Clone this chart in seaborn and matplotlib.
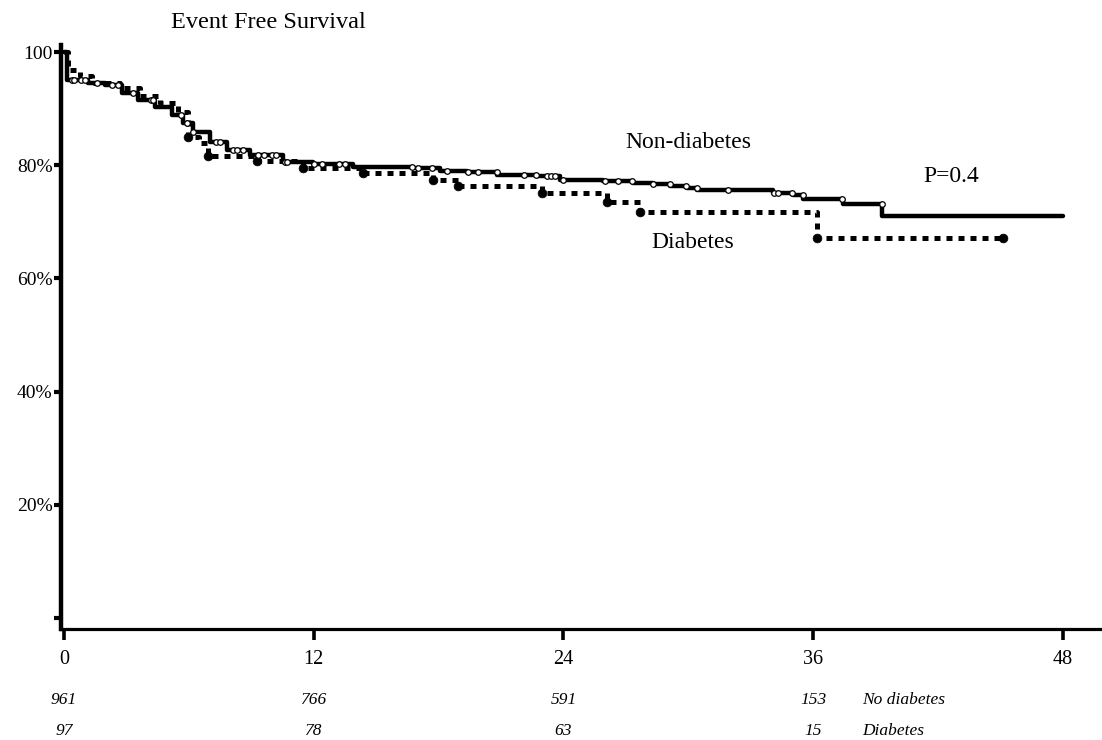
import numpy as np
import pandas as pd
import matplotlib
matplotlib.use("Agg")
import matplotlib.pyplot as plt
import seaborn as sns

# ---------------- data ----------------
# Non-diabetes Kaplan-Meier steps (months, % event free)
nd_time = [0, 0.14, 1.15, 1.97, 2.79, 3.56, 4.37, 5.19, 5.72, 6.2, 7.02, 7.83, 8.94,
           10.52, 11.96, 13.89, 16.77, 18.07, 19.37, 20.81, 22.73, 23.83, 25.9, 27.34,
           28.3, 29.12, 29.94, 30.42, 34.07, 35.03, 35.51, 37.43, 39.31, 48.0]
nd_surv = [100, 95.1, 94.5, 94.2, 92.8, 91.5, 90.3, 88.9, 87.5, 85.9, 84.1, 82.7, 81.8,
           80.6, 80.2, 79.7, 79.5, 79.0, 78.8, 78.3, 78.1, 77.4, 77.2, 76.9,
           76.7, 76.3, 76.0, 75.6, 75.1, 74.7, 74.0, 73.1, 71.0, 71.0]
nd_censor = [0.4, 0.5, 0.8, 1.0, 1.6, 2.3, 2.6, 3.3, 4.2, 4.3, 5.6, 5.9, 6.2, 7.3, 7.5,
             8.1, 8.3, 8.6, 9.3, 9.6, 10.0, 10.2, 10.6, 10.7, 12.0, 12.4, 13.2, 13.5,
             16.7, 17.0, 17.7, 18.4, 19.4, 19.9, 20.8, 22.1, 22.7, 23.2, 23.4, 23.6,
             24.0, 26.0, 26.6, 27.3, 28.3, 29.1, 29.9, 30.4, 31.9, 34.1, 34.3, 35.0,
             35.5, 37.4, 39.3]

# Diabetes Kaplan-Meier steps
d_time = [0, 0.19, 0.77, 1.35, 2.69, 3.65, 4.61, 5.48, 5.96, 6.5, 6.92, 9.27, 11.49,
          14.37, 17.73, 18.93, 22.97, 26.09, 27.68, 36.18, 45.12]
d_surv = [100, 96.8, 95.8, 94.5, 93.6, 92.2, 91.0, 89.4, 85.0, 84.0, 81.6, 80.7, 79.5,
          78.6, 77.4, 76.3, 75.1, 73.5, 71.7, 67.1, 67.1]
d_marks = [5.96, 6.92, 9.27, 11.49, 14.37, 17.73, 18.93, 22.97, 26.09, 27.68, 36.18,
           45.12]

x_ticks = [0, 12, 24, 36, 48]
y_ticks = [0, 20, 40, 60, 80, 100]
y_ticklabels = ["", "20%", "40%", "60%", "80%", "100"]

risk_times = [0, 12, 24, 36]
risk_nodiab = [961, 766, 591, 153]
risk_diab = [97, 78, 63, 15]


def step_value(times, surv, t):
    t = np.asarray(t, dtype=float)
    idx = np.searchsorted(np.asarray(times), t, side="right") - 1
    return np.asarray(surv)[idx]


# ---------------- style ----------------
sns.set_style("white")
plt.rcParams["font.family"] = ["Liberation Serif", "DejaVu Serif"]
for key in ["text.color", "xtick.color", "ytick.color", "axes.labelcolor",
            "axes.edgecolor"]:
    plt.rcParams[key] = "black"

W, H = 1102, 740
fig = plt.figure(figsize=(W / 100, H / 100), dpi=100)
ax = fig.add_axes([61 / W, 1 - 629 / H, (1100 - 61) / W, (629 - 45) / H])

df_d = pd.DataFrame({"t": d_time, "s": d_surv})
df_n = pd.DataFrame({"t": nd_time, "s": nd_surv})

sns.lineplot(data=df_d, x="t", y="s", drawstyle="steps-post", estimator=None,
             sort=False, color="black", linewidth=3.6, linestyle=(0, (1.2, 1.2)),
             ax=ax, legend=False)
sns.lineplot(data=df_n, x="t", y="s", drawstyle="steps-post", estimator=None,
             sort=False, color="black", linewidth=3.2, ax=ax, legend=False)

dm = pd.DataFrame({"t": d_marks, "s": step_value(d_time, d_surv, d_marks)})
sns.scatterplot(data=dm, x="t", y="s", marker="o", s=40, color="black",
                edgecolor="black", linewidth=0.5, ax=ax, zorder=5, legend=False)

nc = pd.DataFrame({"t": nd_censor, "s": step_value(nd_time, nd_surv, nd_censor)})
sns.scatterplot(data=nc, x="t", y="s", marker="o", s=16, facecolor="white",
                edgecolor="black", linewidth=0.9, ax=ax, zorder=6, legend=False)

ax.set_xlim(-0.144, 49.78)
ax.set_ylim(-1.94, 101.24)
ax.set_xlabel("")
ax.set_ylabel("")

for side in ["top", "right"]:
    ax.spines[side].set_visible(False)
ax.spines["left"].set_linewidth(3.2)
ax.spines["bottom"].set_linewidth(2.3)

ax.set_xticks(x_ticks)
ax.set_xticklabels([str(v) for v in x_ticks])
ax.set_yticks(y_ticks)
ax.set_yticklabels(y_ticklabels)
ax.tick_params(axis="x", direction="out", length=8, width=2.6, pad=7,
               labelsize=14.5, color="black", labelcolor="black", bottom=True)
ax.tick_params(axis="y", direction="out", length=5, width=3, pad=1,
               labelsize=14, color="black", labelcolor="black", left=True)
ax.grid(False)

# annotations
fig.text(268 / W, 1 - 22 / H, "Event Free Survival", ha="center", va="center",
         fontsize=17.5)
fig.text(688 / W, 1 - 143 / H, "Non-diabetes", ha="center", va="center", fontsize=17)
fig.text(951 / W, 1 - 177 / H, "P=0.4", ha="center", va="center", fontsize=17)
fig.text(693 / W, 1 - 243 / H, "Diabetes", ha="center", va="center", fontsize=17)

# numbers at risk
trans = matplotlib.transforms.blended_transform_factory(ax.transData, fig.transFigure)
for t, n1, n2 in zip(risk_times, risk_nodiab, risk_diab):
    ax.text(t, 1 - 700 / H, str(n1), transform=trans, ha="center", va="center",
            fontsize=12.5, style="italic", clip_on=False)
    ax.text(t, 1 - 731 / H, str(n2), transform=trans, ha="center", va="center",
            fontsize=12.5, style="italic", clip_on=False)
fig.text(862 / W, 1 - 700 / H, "No diabetes", ha="left", va="center",
         fontsize=12.5, style="italic")
fig.text(862 / W, 1 - 731 / H, "Diabetes", ha="left", va="center",
         fontsize=12.5, style="italic")

fig.savefig("out.png", dpi=100)
